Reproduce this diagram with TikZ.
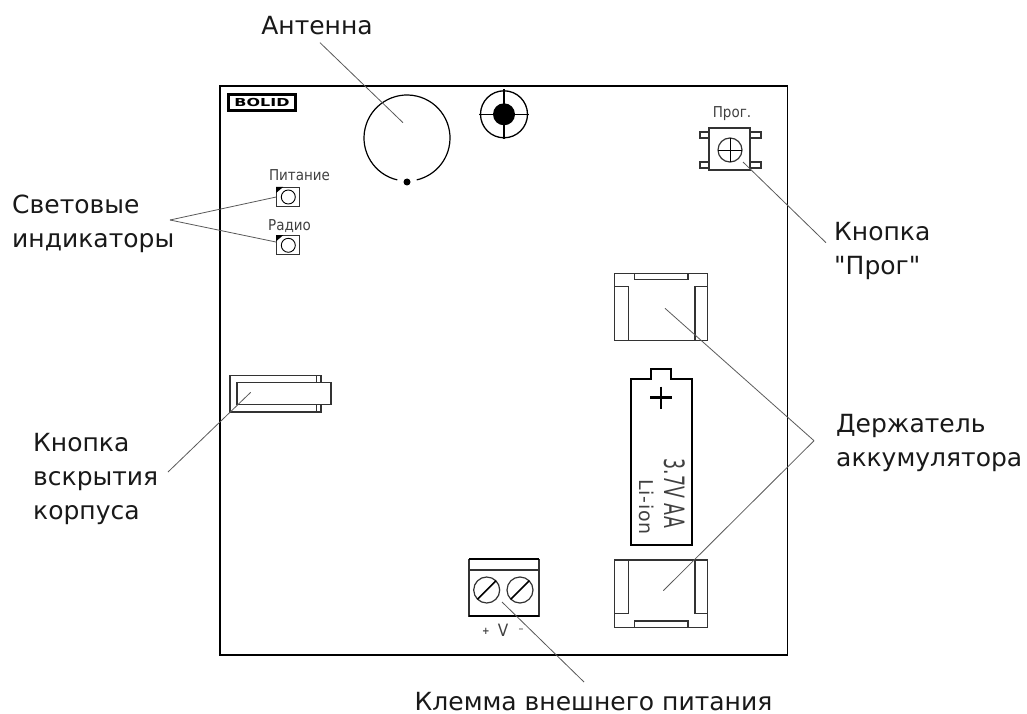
\documentclass[tikz,border=0pt]{standalone}
\usepackage{fontspec}
\setmainfont[Ligatures=TeXOff]{DejaVu Sans}
\newfontfamily\boardfont[FakeStretch=0.9]{DejaVu Sans}
\newfontfamily\batfont[FakeStretch=0.62]{DejaVu Sans}
\newfontfamily\ionfont[LetterSpace=4]{DejaVu Sans}
\newfontfamily\logofont[FakeStretch=1.45]{DejaVu Sans}
\tikzset{
	callout/.style={font=\fontsize{25}{34}\selectfont,align=left,inner sep=0pt,text=black!90},
	boardtext/.style={font=\boardfont\fontsize{15}{15}\selectfont,inner sep=0pt,text=black!75},
	leader/.style={draw=black!65,line width=0.8pt},
	part/.style={draw=black!80,line width=1.2pt},
	heavy/.style={draw=black,line width=2.2pt}
}
\begin{document}
\begin{tikzpicture}[x=1pt,y=-1pt]
	\useasboundingbox (0,0) rectangle (1027,714);
	\node (board) [draw,line width=1.9pt,minimum width=567.5pt,minimum height=569pt,inner sep=0pt] at (503.75,370.5) {};
	\node (logo) [draw,line width=2.2pt,minimum width=67pt,minimum height=16pt,inner sep=0pt,font=\logofont\bfseries\fontsize{11}{11}\selectfont] at (262,102.5) {BOLID};

	\coordinate (ant) at (407,138);
	\draw[line width=1.2pt] (ant) ++(103:43) arc (103:437:43);
	\node (antdot) [circle,fill=black,minimum size=7pt,inner sep=0pt] at (407,182) {};
	\coordinate (antin) at (403,122.7);

	\node (hole) [circle,fill=black,minimum size=22pt,inner sep=0pt] at (504,114.3) {};
	\draw[line width=1.3pt] (hole) circle (23.5);
	\foreach \a in {0,90,180,270}
		\draw[line width=1.3pt] (hole) ++(\a:10) -- ++(\a:15);

	\node (ledp) [part,minimum width=23pt,minimum height=19pt,inner sep=0pt] at (288.3,197) {};
	\node (ledr) [part,minimum width=23pt,minimum height=19pt,inner sep=0pt] at (288.3,245.3) {};
	\foreach \n in {ledp,ledr} {
		\draw[line width=0.9pt] (\n) circle (7);
		\fill (\n.north west) -- ++(7,0) -- ++(-7,6) -- cycle;
	}
	\node (ledptext) [boardtext,anchor=base] at (299.5,181) {Питание};
	\node (ledrtext) [boardtext,anchor=base] at (289.5,230.7) {Радио};

	\draw[part,line width=1.5pt] (317,375.5) -- (230,375.5) -- (230,412) -- (317,412);
	\draw[part] (316.7,375.5) rectangle (321,412);
	\node (tamper) [part,fill=white,minimum width=94pt,minimum height=21.6pt,inner sep=0pt] at (284,393.5) {};

	\node (btn) [part,minimum width=41pt,minimum height=42pt,inner sep=0pt] at (729.5,149) {};
	\foreach \y in {135,165} {
		\draw[part] (709,\y-3) -- (700,\y-3) -- (700,\y+3) -- (709,\y+3);
		\draw[part] (750,\y-3) -- (761,\y-3) -- (761,\y+3) -- (750,\y+3);
	}
	\draw[part] (730,150) circle (12);
	\draw[line width=0.8pt] (718,150) -- (742,150) (730,138) -- (730,162);
	\node (btntext) [boardtext,anchor=base] at (732,118) {Прог.};
	\coordinate (btnin) at (743,162);

	\node (holdt) [part,minimum width=93.4pt,minimum height=67pt,inner sep=0pt] at (661,306.7) {};
	\draw[part] (614.3,286.7) -- (628.6,286.7) -- (628.6,340.2);
	\draw[part] (707.7,286.7) -- (695,286.7) -- (695,340.2);
	\draw[part] (634.3,273.2) -- (634.3,279.3) -- (688,279.3) -- (688,273.2);
	\coordinate (holdtin) at (665,308.3);
	\node (holdb) [part,minimum width=93.4pt,minimum height=67.7pt,inner sep=0pt] at (661,593.9) {};
	\draw[part] (614.3,613.3) -- (628.6,613.3) -- (628.6,560);
	\draw[part] (707.7,613.3) -- (695,613.3) -- (695,560);
	\draw[part] (634.3,627.7) -- (634.3,621) -- (688,621) -- (688,627.7);
	\coordinate (holdbin) at (663.3,590.7);

	\draw[heavy] (630.7,379) -- (650.7,379) -- (650.7,369) -- (671,369) -- (671,379) -- (692,379) -- (692,545) -- (630.7,545) -- cycle;
	\draw[line width=2.6pt] (650,397.5) -- (672,397.5) (661,386.7) -- (661,409);
	\node (batv) [boardtext,rotate=-90,font=\batfont\fontsize{28}{28}\selectfont] at (675,493.5) {3.7V AA};
	\node (batc) [boardtext,rotate=-90,font=\ionfont\fontsize{19}{19}\selectfont] at (647,507) {Li-ion};

	\node (term) [part,minimum width=70pt,minimum height=56.7pt,inner sep=0pt] at (504,587.7) {};
	\draw[line width=2pt] (469,559.3) -- (539,559.3) (469,616) -- (539,616);
	\draw[part] (469,570) -- (539,570);
	\foreach \x in {486.7,520} {
		\draw[part] (\x,590) circle (13);
		\draw[line width=1.6pt] (\x-9.3,599.3) -- (\x+9.3,580.7);
	}
	\coordinate (termin) at (502,602);
	\node (termp) [boardtext,font=\boardfont\bfseries\fontsize{10}{10}\selectfont] at (486,631) {+};
	\node (termv) [boardtext,font=\boardfont\fontsize{17}{17}\selectfont] at (503,630) {V};
	\node (termm) [boardtext,font=\boardfont\fontsize{11}{11}\selectfont] at (521,631) {–};

	\node (antl) [callout,anchor=base] at (317,35) {Антенна};
	\node (ledl) [callout,anchor=west] at (12,224) {Световые\\индикаторы};
	\node (tamperl) [callout,anchor=west] at (33,479) {Кнопка\\вскрытия\\корпуса};
	\node (btnl) [callout,anchor=west] at (834,251) {Кнопка\\"Прог"};
	\node (holdl) [callout,anchor=west] at (836,443) {Держатель\\аккумулятора};
	\node (terml) [callout,anchor=base] at (593.5,710) {Клемма внешнего питания};

	\coordinate (antfoot) at (320,42.7);
	\coordinate (ledfork) at (170,220);
	\coordinate (tamperfoot) at (168,472);
	\coordinate (tamperin) at (250.7,392.3);
	\coordinate (btnfoot) at (826,242.7);
	\coordinate (holdfork) at (814,440.7);
	\coordinate (termfoot) at (584,682);
	\draw[leader] (antfoot) -- (antin);
	\draw[leader] (ledfork) -- (ledp.west);
	\draw[leader] (ledfork) -- (ledr.165);
	\draw[leader] (tamperfoot) -- (tamperin);
	\draw[leader] (btnfoot) -- (btnin);
	\draw[leader] (holdfork) -- (holdtin);
	\draw[leader] (holdfork) -- (holdbin);
	\draw[leader] (termfoot) -- (termin);
\end{tikzpicture}
\end{document}
